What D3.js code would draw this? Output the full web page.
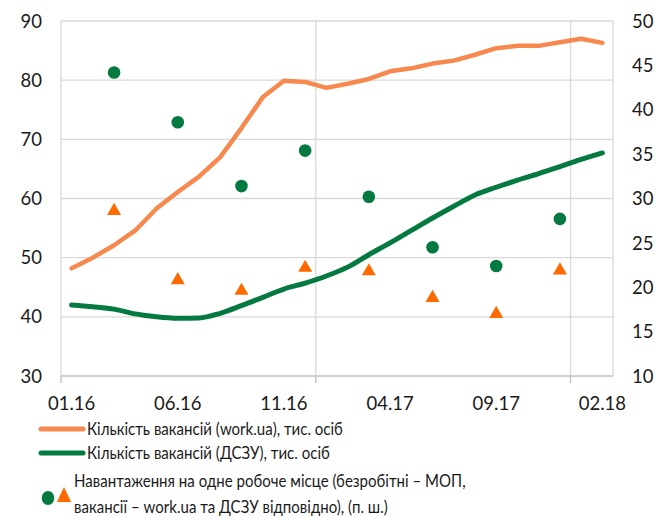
<!DOCTYPE html>
<html>
<head>
<meta charset="utf-8">
<script src="https://cdn.jsdelivr.net/npm/d3@7/dist/d3.min.js"></script>
<style>
  html, body { margin: 0; padding: 0; background: #fff; }
  svg { display: block; font-family: Lato, "Open Sans", sans-serif; }
</style>
</head>
<body>
<svg id="chart" width="670" height="517"></svg>
<script>
// Monthly categories, 01.16 – 02.18
const months = ["01.16","02.16","03.16","04.16","05.16","06.16","07.16","08.16","09.16","10.16","11.16","12.16",
                "01.17","02.17","03.17","04.17","05.17","06.17","07.17","08.17","09.17","10.17","11.17","12.17",
                "01.18","02.18"];
// Vacancies on work.ua, thousand
const vacWorkua = [48.2, 50.0, 52.1, 54.6, 58.3, 61.1, 63.7, 67.0, 71.9, 77.1, 79.9, 79.7,
                   78.7, 79.4, 80.2, 81.5, 82.0, 82.8, 83.3, 84.3, 85.4, 85.8, 85.8, 86.4,
                   87.0, 86.3];
// Vacancies at the State Employment Service (ДСЗУ), thousand
const vacDszu = [42.0, 41.7, 41.3, 40.5, 40.0, 39.75, 39.8, 40.6, 41.9, 43.3, 44.7, 45.7,
                 46.9, 48.4, 50.5, 52.5, 54.6, 56.7, 58.7, 60.6, 61.9, 63.1, 64.2, 65.4,
                 66.6, 67.7];
// Quarterly load per vacancy (right axis)
const quarters = ["03.16","06.16","09.16","12.16","03.17","06.17","09.17","12.17"];
const loadDszu = [44.2, 38.6, 31.4, 35.4, 30.2, 24.5, 22.4, 27.7];
const loadWorkua = [28.6, 20.8, 19.6, 22.2, 21.8, 18.8, 17.0, 21.9];

const leftTicks = [30, 40, 50, 60, 70, 80, 90];
const rightTicks = [10, 15, 20, 25, 30, 35, 40, 45, 50];
const labelMonths = ["01.16","06.16","11.16","04.17","09.17","02.18"];
const yearStarts = ["01.17","01.18"];

const legendItems = [
  "Кількість вакансій (work.ua), тис. осіб",
  "Кількість вакансій (ДСЗУ), тис. осіб"
];
const legendLoad = [
  "Навантаження на одне робоче місце (безробітні – МОП,",
  "вакансії – work.ua та ДСЗУ відповідно), (п. ш.)"
];

const C_ORANGE_LINE = "#f7894f";
const C_GREEN = "#047a40";
const C_ORANGE_MARK = "#ff6a00";
const C_GRID = "#d9d9d9";
const C_AXIS = "#bfbfbf";
const C_TEXT = "#1a1a1a";

const svg = d3.select("#chart");
const plot = { left: 61, right: 613, top: 21, bottom: 376 };

const x = d3.scalePoint().domain(months).range([plot.left, plot.right]).padding(0.5);
const step = x.step();
const yL = d3.scaleLinear().domain([30, 90]).range([plot.bottom, plot.top]);
const yR = d3.scaleLinear().domain([10, 50]).range([plot.bottom, plot.top]);

// horizontal gridlines
svg.append("g").selectAll("line").data(leftTicks.slice(1)).join("line")
  .attr("x1", plot.left).attr("x2", plot.right)
  .attr("y1", d => yL(d)).attr("y2", d => yL(d))
  .attr("stroke", C_GRID).attr("stroke-width", 1.3);

// vertical gridlines at year boundaries plus plot edges
const vLines = [plot.left, ...yearStarts.map(m => x(m) - step / 2), plot.right];
svg.append("g").selectAll("line").data(vLines).join("line")
  .attr("x1", d => d).attr("x2", d => d)
  .attr("y1", plot.top).attr("y2", plot.bottom)
  .attr("stroke", C_GRID).attr("stroke-width", 1.3);

// bottom axis with ticks at year boundaries
const tickXs = [plot.left, ...yearStarts.map(m => x(m) - step / 2)];
svg.append("line")
  .attr("x1", plot.left).attr("x2", plot.right)
  .attr("y1", plot.bottom).attr("y2", plot.bottom)
  .attr("stroke", C_AXIS).attr("stroke-width", 1.3);
svg.append("g").selectAll("line").data(tickXs).join("line")
  .attr("x1", d => d).attr("x2", d => d)
  .attr("y1", plot.bottom).attr("y2", plot.bottom + 7)
  .attr("stroke", C_AXIS).attr("stroke-width", 1.3);

// axis labels
const axisFont = 18.5;
svg.append("g").selectAll("text").data(leftTicks).join("text")
  .attr("x", 42).attr("y", d => yL(d)).attr("dy", "0.36em")
  .attr("text-anchor", "end").attr("font-size", axisFont).attr("fill", C_TEXT)
  .text(d => d);
svg.append("g").selectAll("text").data(rightTicks).join("text")
  .attr("x", 632).attr("y", d => yR(d)).attr("dy", "0.36em")
  .attr("text-anchor", "start").attr("font-size", axisFont).attr("fill", C_TEXT)
  .text(d => d);
svg.append("g").selectAll("text").data(labelMonths).join("text")
  .attr("x", d => x(d)).attr("y", 410)
  .attr("text-anchor", "middle").attr("font-size", axisFont).attr("fill", C_TEXT)
  .text(d => d);

// lines
const lineL = d3.line().x((d, i) => x(months[i])).y(d => yL(d));
svg.append("path").datum(vacWorkua).attr("d", lineL)
  .attr("fill", "none").attr("stroke", C_ORANGE_LINE).attr("stroke-width", 4.5)
  .attr("stroke-linejoin", "round").attr("stroke-linecap", "round");
svg.append("path").datum(vacDszu).attr("d", lineL.curve(d3.curveMonotoneX))
  .attr("fill", "none").attr("stroke", C_GREEN).attr("stroke-width", 5)
  .attr("stroke-linejoin", "round").attr("stroke-linecap", "round");

// markers
const tri = d3.symbol().type(d3.symbolTriangle).size(85);
svg.append("g").selectAll("circle").data(loadDszu).join("circle")
  .attr("cx", (d, i) => x(quarters[i])).attr("cy", d => yR(d))
  .attr("r", 6.3).attr("fill", C_GREEN);
svg.append("g").selectAll("path").data(loadWorkua).join("path")
  .attr("d", tri)
  .attr("transform", (d, i) => `translate(${x(quarters[i])},${yR(d)})`)
  .attr("fill", C_ORANGE_MARK);

// legend (text set in a slightly condensed width)
const legFont = 17.5;
const squeeze = 0.86;
const leg = svg.append("g");
const legColors = [C_ORANGE_LINE, C_GREEN];
const legY = [429, 453];
function legText(t, x0, y0) {
  leg.append("text")
    .attr("transform", `translate(${x0},${y0}) scale(${squeeze},1)`)
    .attr("dy", "0.36em")
    .attr("font-size", legFont).attr("fill", C_TEXT).text(t);
}
legendItems.forEach((t, i) => {
  leg.append("line").attr("x1", 41).attr("x2", 83)
    .attr("y1", legY[i]).attr("y2", legY[i])
    .attr("stroke", legColors[i]).attr("stroke-width", 5).attr("stroke-linecap", "round");
  legText(t, 87, legY[i]);
});
leg.append("ellipse").attr("cx", 48).attr("cy", 498).attr("rx", 6.3).attr("ry", 6.9).attr("fill", C_GREEN);
leg.append("path").attr("d", d3.symbol().type(d3.symbolTriangle).size(120))
  .attr("transform", "translate(64,497) scale(0.85,1.05)").attr("fill", C_ORANGE_MARK);
legendLoad.forEach((t, i) => legText(t, 74, 481 + i * 26));
</script>
</body>
</html>
